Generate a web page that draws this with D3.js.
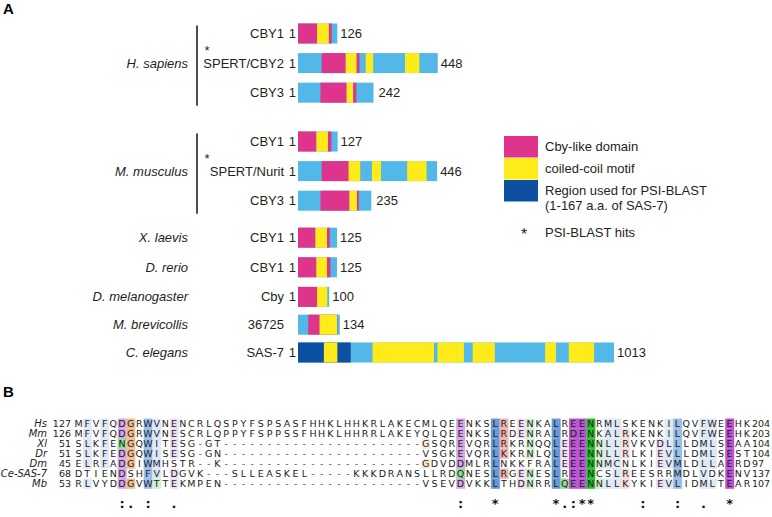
<!DOCTYPE html>
<html><head><meta charset="utf-8">
<script src="https://cdn.jsdelivr.net/npm/d3@7"></script>
<style>body{margin:0;background:#fff}svg{display:block}</style>
</head><body><svg id="c" width="772" height="517"></svg>
<script>
// ---------------- Panel A data ----------------
const species = ["H. sapiens","M. musculus","X. laevis","D. rerio","D. melanogaster","M. brevicollis","C. elegans"];
const proteins = ["CBY1","SPERT/CBY2","CBY3","CBY1","SPERT/Nurit","CBY3","CBY1","CBY1","Cby","36725","SAS-7"];
const proteinSpecies = [0,0,0,1,1,1,2,3,4,5,6];
const proteinLengths = [126,448,242,127,446,235,125,125,100,134,1013];
const showStartLabel = [1,1,1,1,1,1,1,1,1,0,1];
const psiBlastHit = [0,1,0,0,1,0,0,0,0,0,0];
// domain segments: [protein index, start aa, end aa, type]
const domainSegments = [
  [0,0,61,"cby"],[0,61,99,"cc"],[0,99,108,"cby"],
  [1,76,153,"cby"],[1,153,188,"cc"],[1,188,197,"cby"],[1,217,241,"cc"],[1,343,389,"cc"],
  [2,72,156,"cby"],[2,156,177,"cc"],[2,177,187,"cby"],
  [3,0,59,"cby"],[3,59,96,"cc"],[3,96,107,"cby"],
  [4,76,200,"cby"],[4,162,200,"cc"],[4,237,266,"cc"],[4,350,412,"cc"],
  [5,72,165,"cby"],[5,165,189,"cc"],[5,189,195,"cby"],
  [6,0,56,"cby"],[6,56,93,"cc"],[6,93,102,"cby"],
  [7,0,59,"cby"],[7,59,93,"cc"],[7,93,104,"cby"],
  [8,0,61,"cby"],[8,61,94,"cc"],
  [9,33,126,"cby"],[9,69,125,"cc"],
  [10,0,169,"psi"],[10,83,126,"cc"],[10,239,436,"cc"],[10,447,532,"cc"],[10,560,631,"cc"],[10,792,827,"cc"],[10,868,949,"cc"]
];
const legendLabels = ["Cby-like domain","coiled-coil motif","Region used for PSI-BLAST","(1-167 a.a. of SAS-7)"];
const legendTypes = ["cby","cc","psi"];
const hitsLabel = "PSI-BLAST hits";

// ---------------- Panel B data ----------------
const seqNames = ["Hs","Mm","Xl","Dr","Dm","Ce-SAS-7","Mb"];
const seqStarts = [127,126,51,51,45,68,53];
const seqEnds = [204,203,104,104,97,137,107];
const sequences = [
  "MFVFQDGRWVNENCRLQSPYFSPSASFHHKLHHKRLAKECMLQEENKSLREENKALREENRMLSKENKILQVFWEEHK",
  "MFVFQDGRWVNESCRLQPPYFSPPSSFHHKLHHRRLAKEYQLQEENKSLRDENRALRDENKALRKENKILQVFWEEHK",
  "SLKFENGQWITESG-GT-----------------------GSQREVQRLRKRNQQLEEENNLLRVKVDLLLDMLSEAA",
  "SLKFEDGQWISESG-GN-----------------------VSGKEVQRLKKRNLQLEEENNLLRLKIEVLLDMLSEST",
  "ELRFADGIWMHSTR--K-----------------------GDVDDMLRLNKKFRALEEENNMCNLKIEVMLDLLAERD",
  "DTIENDSHFVLDGVK---SLLEASKEL-----KKKDRANSLLRDQNESLRGENESLREENCSLREESRRMDLVDKENV",
  "RLVYDDGVWTTEKMPEN-----------------------VSEVDVKKLTHDNRRLQEENNLLKYKIEVLIDMLTEAR"
];
// column shading: [column (1-based), residue class, conservation level 1..3]
const columnShading = [
  [2,"hyd",1],[4,"hyd",1],[6,"acid",2],[6,"polar",2],[7,"gly",2],[9,"hyd",2],[10,"hyd",1],[10,"polar",1],
  [12,"acid",1],[41,"gly",1],[45,"acid",2],[45,"polar",2],[49,"hyd",3],[50,"basic",2],[52,"acid",1],
  [53,"polar",1],[56,"hyd",3],[57,"acid",1],[57,"polar",2],[58,"acid",3],[59,"acid",3],[60,"polar",3],
  [61,"polar",1],[62,"hyd",1],[63,"hyd",1],[64,"basic",1],[68,"acid",1],[69,"hyd",1],[70,"hyd",2],
  [73,"hyd",1],[74,"hyd",1],[76,"acid",3]
];
const consCols = [6,7,9,12,45,49,56,57,58,59,60,66,70,73,76];
const consMarks = [":",".",":",".",":","*","*",".",":","*","*",":",":",".","*"];

// ---------------- drawing ----------------
const svg = d3.select("#c");
svg.append("rect").attr("width",772).attr("height",517).attr("fill","#fff");
const fontA = "'Liberation Sans', Arial, sans-serif";
const domainColor = {cby:"#df348b", cc:"#fdec1a", psi:"#0d4fa1"};
const barColor = "#52b8e8";

svg.append("text").attr("x",3).attr("y",14).attr("font-family",fontA).attr("font-weight","bold")
  .attr("font-size",15).text("A");

const xA = d3.scaleLinear().domain([0,1013]).range([298,614]);
// vertical slots: extra gaps between species groups
const slot = i => i + (i>=3?0.65:0) + (i>=6?0.25:0) - (i>=9?0.06*(i-8):0);
const yA = d3.scaleLinear().domain([0,10.78]).range([33.5,352.5]);
const rowY = i => yA(slot(i));
const barH = 20;

const gA = svg.append("g").attr("font-family",fontA).attr("font-size",13).attr("fill","#231f20");

species.forEach((s,si)=>{
  const rows = proteinSpecies.map((p,i)=>p===si?i:-1).filter(i=>i>=0);
  const mid = (rowY(rows[0])+rowY(rows[rows.length-1]))/2;
  gA.append("text").attr("x",188).attr("y",mid+4.5).attr("text-anchor","end")
    .attr("font-style","italic").attr("fill","#231f20").text(s);
  if(rows.length>1){
    gA.append("line").attr("x1",197).attr("x2",197)
      .attr("y1",rowY(rows[0])-8).attr("y2",rowY(rows[rows.length-1])+13)
      .attr("stroke","#231f20").attr("stroke-width",1.6);
  }
});

proteins.forEach((p,i)=>{
  const y = rowY(i);
  gA.append("text").attr("x",284).attr("y",y+4.5).attr("text-anchor","end").text(p);
  if(showStartLabel[i]) gA.append("text").attr("x",296).attr("y",y+4.5).attr("text-anchor","end").text("1");
  if(psiBlastHit[i]) gA.append("text").attr("x",207).attr("y",y-8).attr("text-anchor","middle")
     .attr("font-size",13).text("*");
  gA.append("rect").attr("x",xA(0)).attr("y",y-barH/2).attr("width",xA(proteinLengths[i])-xA(0))
    .attr("height",barH).attr("fill",barColor);
  domainSegments.filter(d=>d[0]===i).forEach(d=>{
    gA.append("rect").attr("x",xA(d[1])).attr("y",y-barH/2).attr("width",xA(d[2])-xA(d[1]))
      .attr("height",barH).attr("fill",domainColor[d[3]]);
  });
  const gap = proteinLengths[i]>200 && proteinLengths[i]<300 ? 5 : 3;
  gA.append("text").attr("x",xA(proteinLengths[i])+gap).attr("y",y+4.5).text(proteinLengths[i]);
});

legendTypes.forEach((t,k)=>{
  gA.append("rect").attr("x",504).attr("y",136+k*22).attr("width",34).attr("height",21.5)
    .attr("fill",domainColor[t]);
});
[146,168,190,205].forEach((yy,k)=>{
  gA.append("text").attr("x",545).attr("y",yy+4.5).text(legendLabels[k]);
});
gA.append("text").attr("x",524).attr("y",240).attr("text-anchor","middle").attr("font-size",16).text("*");
gA.append("text").attr("x",545).attr("y",237).text(hitsLabel);

// ---------------- Panel B ----------------
svg.append("text").attr("x",3).attr("y",397).attr("font-family",fontA).attr("font-weight","bold")
  .attr("font-size",15).text("B");

const nCols = sequences[0].length;
const xB = d3.scaleLinear().domain([1,nCols]).range([78.6,78.6+(nCols-1)*8.68]);
const cw = 8.68;
const yB = d3.scaleBand().domain(d3.range(seqNames.length)).range([418.5,488.5]);
const classes = {hyd:"AILMFWVC", acid:"DE", polar:"NQST", basic:"KR", gly:"G"};
const palette = {
  hyd:["#dfe9f6","#97bde9","#6a9bd9"],
  acid:["#efdff4","#d7a6e7","#bb55d3"],
  polar:["#d4efd2","#95dc93","#26bf2c"],
  basic:["#f8dedc","#f1b4ad","#e8877f"],
  gly:["#fbe7d6","#f3bd8c","#ee9b58"]
};
const gB = svg.append("g");
columnShading.forEach(([c,cls,lvl])=>{
  sequences.forEach((s,r)=>{
    const aa = s[c-1];
    if(classes[cls].includes(aa)){
      gB.append("rect").attr("x",xB(c)-cw/2).attr("y",yB(r)).attr("width",cw+0.3)
        .attr("height",yB.bandwidth()+0.3).attr("fill",palette[cls][lvl-1]);
    }
  });
});
const fontB = "'DejaVu Sans', sans-serif";
sequences.forEach((s,r)=>{
  const yy = yB(r)+yB.bandwidth()/2+3.5;
  gB.append("text").attr("x",47).attr("y",yy).attr("text-anchor","end").attr("font-family",fontB)
    .attr("font-style","italic").attr("font-size",10).attr("fill","#222").text(seqNames[r]);
  gB.append("text").attr("x",71).attr("y",yy).attr("text-anchor","end").attr("font-family",fontB)
    .attr("font-size",9.5).attr("fill","#222").text(seqStarts[r]);
  s.split("").forEach((ch,k)=>{
    gB.append("text").attr("x",xB(k+1)).attr("y",yy).attr("text-anchor","middle")
      .attr("font-family",fontB).attr("font-size",9.5).attr("fill",ch==="-"?"#555":"#222").text(ch);
  });
  gB.append("text").attr("x",xB(nCols)+5).attr("y",yy).attr("font-family",fontB)
    .attr("font-size",9.5).attr("fill","#222").text(seqEnds[r]);
});
consCols.forEach((c,k)=>{
  gB.append("text").attr("x",xB(c)).attr("y",508).attr("text-anchor","middle")
    .attr("font-family",fontB).attr("font-weight","bold").attr("font-size",13).attr("fill","#111").text(consMarks[k]);
});
</script></body></html>
